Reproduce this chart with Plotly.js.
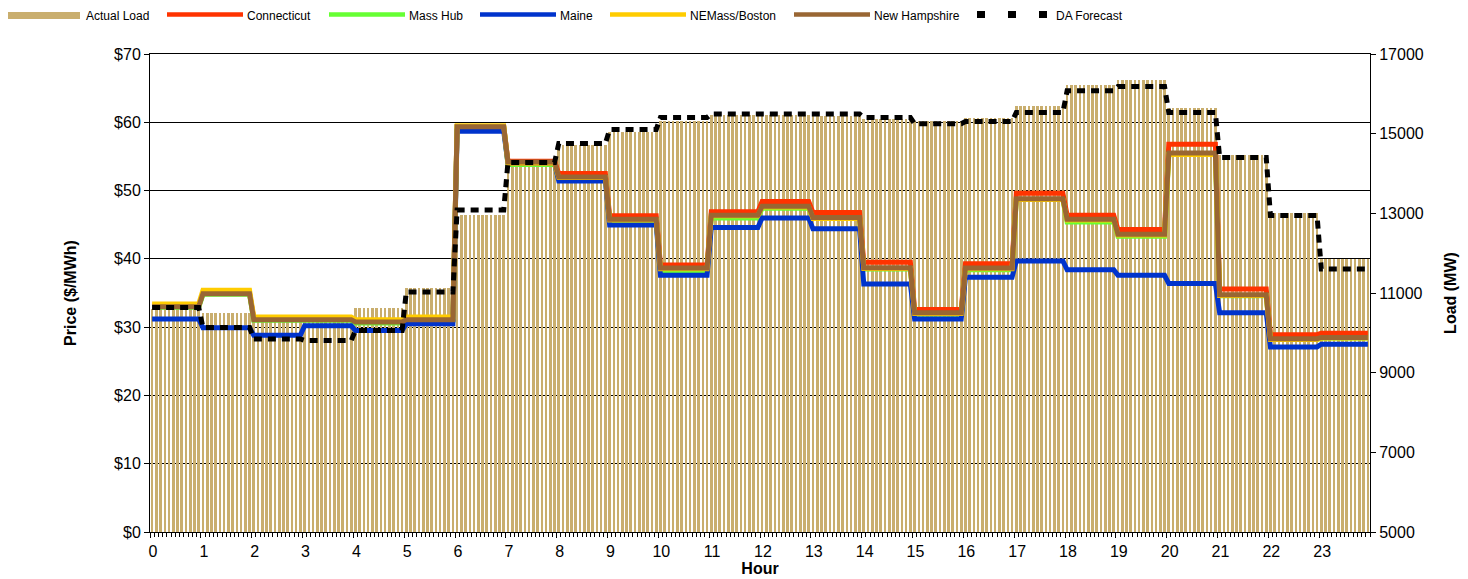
<!DOCTYPE html>
<html><head><meta charset="utf-8">
<script src="https://cdn.plot.ly/plotly-3.0.1.min.js"></script>
<style>html,body{margin:0;padding:0;background:#fff}</style>
</head><body>
<div id="chart" style="width:1468px;height:579px"></div>
<script>
// ---- data (hourly values) ----
const hours = ['0','1','2','3','4','5','6','7','8','9','10','11','12','13','14','15','16','17','18','19','20','21','22','23'];
const actualLoad   = [10600,10500,10450,10420,10630,11120,12960,14260,14720,15040,15320,15480,15470,15440,15370,15320,15390,15700,16220,16350,15640,14460,13010,11850];
const daForecast   = [10636,10134,9845,9808,10059,11025,13084,14276,14753,15105,15406,15494,15499,15494,15406,15248,15306,15532,16076,16184,15532,14402,12946,11603];
const connecticut  = [33.1,35.0,31.3,31.2,30.9,31.2,59.4,54.3,52.5,46.3,39.1,46.9,48.4,46.8,39.5,32.6,39.3,49.6,46.4,44.3,56.8,35.6,28.9,29.1];
const massHub      = [32.9,34.8,31.0,31.0,30.6,31.0,59.3,53.8,51.8,45.6,38.3,46.0,47.4,45.9,38.5,31.9,38.4,48.7,45.4,43.3,55.3,34.6,28.2,28.4];
const maine        = [31.2,29.9,28.8,30.2,29.5,30.5,58.7,54.0,51.4,44.95,37.6,44.6,46.0,44.4,36.3,31.2,37.3,39.7,38.4,37.6,36.4,32.1,27.1,27.5];
const neMassBoston = [33.4,35.4,31.5,31.5,31.1,31.5,59.5,54.0,51.9,45.7,38.55,46.3,47.6,45.9,38.6,32.0,38.55,48.7,45.7,43.5,55.3,34.65,28.2,28.4];
const newHampshire = [33.0,34.9,31.1,31.1,30.75,31.1,59.35,54.2,52.0,45.8,38.65,46.4,47.7,46.05,38.7,32.1,38.65,48.8,45.8,43.6,55.5,34.75,28.3,28.5];

// 5-minute intervals
const perHour = 12;
const nPts = hours.length * perHour;
const xs = [];
for (let i = 0; i < nPts; i++) xs.push((i + 0.5) / perHour);
function expand(arr) { const out = []; for (let i = 0; i < nPts; i++) out.push(arr[Math.floor(i / perHour)]); return out; }

const FONT = 'Liberation Sans, Arial, sans-serif';
const barColor = '#C9AE6E';
const series = [
  {name:'Connecticut',   data:connecticut,  color:'#FF3300'},
  {name:'Mass Hub',      data:massHub,      color:'#66FF33'},
  {name:'Maine',         data:maine,        color:'#0033CC'},
  {name:'NEMass/Boston', data:neMassBoston, color:'#FFCC00'},
  {name:'New Hampshire', data:newHampshire, color:'#996633'}
];

const traces = [];
traces.push({type:'bar', name:'Actual Load', x:xs, y:expand(actualLoad), xaxis:'x', yaxis:'y',
  width:0.62/perHour, marker:{color:barColor, line:{width:0}}, showlegend:false, hoverinfo:'skip'});
series.forEach(s => traces.push({type:'scatter', mode:'lines', name:s.name, x:xs, y:expand(s.data),
  xaxis:'x', yaxis:'y2', line:{color:s.color, width:5}, showlegend:false, hoverinfo:'skip'}));
// DA forecast plotted on load axis
traces.push({type:'scatter', mode:'lines', name:'DA Forecast', x:xs, y:expand(daForecast),
  xaxis:'x', yaxis:'y3', line:{color:'#000', width:5, dash:'8px,6px'}, showlegend:false, hoverinfo:'skip'});

// plot area in px
const L = 150, R = 1370, T = 54, B = 532, W = 1468, H = 579;
const px = v => (v - L) / (R - L);
const py = v => (B - v) / (B - T);

const shapes = [], annotations = [];
const legendItems = [
  {name:'Actual Load',   kind:'rect', color:barColor, x0:8,   x1:80,   tx:84},
  {name:'Connecticut',   kind:'line', color:'#FF3300', x0:167, x1:243, tx:245},
  {name:'Mass Hub',      kind:'line', color:'#66FF33', x0:329, x1:405, tx:407},
  {name:'Maine',         kind:'line', color:'#0033CC', x0:480, x1:556, tx:558},
  {name:'NEMass/Boston', kind:'line', color:'#FFCC00', x0:610, x1:686, tx:688},
  {name:'New Hampshire', kind:'line', color:'#996633', x0:794, x1:870, tx:872},
  {name:'DA Forecast',   kind:'dash', color:'#000',    x0:977, x1:1049, tx:1054}
];
legendItems.forEach(it => {
  if (it.kind === 'rect') {
    shapes.push({type:'rect', xref:'paper', yref:'paper', x0:px(it.x0), x1:px(it.x1), y0:py(19), y1:py(12),
      fillcolor:it.color, line:{width:0}});
  } else {
    shapes.push({type:'line', xref:'paper', yref:'paper', x0:px(it.x0), x1:px(it.x1), y0:py(14.5), y1:py(14.5),
      line:{color:it.color, width: it.kind === 'dash' ? 7 : 4.5, dash: it.kind === 'dash' ? '8px,23px' : 'solid'}});
  }
  annotations.push({xref:'paper', yref:'paper', x:px(it.tx), y:py(16), xanchor:'left', yanchor:'middle',
    text:it.name, showarrow:false, font:{family:FONT, size:12, color:'#000'}});
});

const axisCommon = {ticks:'outside', ticklen:5, tickcolor:'#000', tickwidth:1, showline:true, linecolor:'#000',
  linewidth:1, zeroline:false, tickfont:{family:FONT, size:16, color:'#000'}};

const layout = {
  width:W, height:H, margin:{l:L, r:W-R, t:T, b:H-B, pad:0},
  paper_bgcolor:'#fff', plot_bgcolor:'#fff', showlegend:false, bargap:0,
  font:{family:FONT, color:'#000'},
  xaxis: Object.assign({}, axisCommon, {range:[0,24], tickmode:'array', tickvals:hours.map((h,i)=>i), ticktext:hours,
    showgrid:false, mirror:true, ticklabelshift:3,
    minor:{tickmode:'linear', tick0:0, dtick:1/perHour, ticks:'outside', ticklen:4, tickcolor:'#000', showgrid:false},
    title:{text:'<b>Hour</b>', font:{family:FONT, size:16, color:'#000'}, standoff:2}}),
  yaxis: Object.assign({}, axisCommon, {side:'right', range:[5000,17000], tickmode:'linear', tick0:5000, dtick:2000,
    tickformat:'d', showgrid:false,
    title:{text:'<b>Load (MW)</b>', font:{family:FONT, size:16, color:'#000'}, standoff:22}}),
  yaxis2: Object.assign({}, axisCommon, {overlaying:'y', side:'left', range:[0,70], tickmode:'linear', tick0:0, dtick:10,
    tickprefix:'$', showgrid:true, gridcolor:'#000', gridwidth:1,
    title:{text:'<b>Price ($/MWh)</b>', font:{family:FONT, size:16, color:'#000'}, standoff:33}}),
  yaxis3: {overlaying:'y', side:'right', range:[5000,17000], visible:false, showgrid:false, zeroline:false},
  shapes: shapes, annotations: annotations
};

Plotly.newPlot('chart', traces, layout, {staticPlot:true, displayModeBar:false});
</script>
</body></html>
